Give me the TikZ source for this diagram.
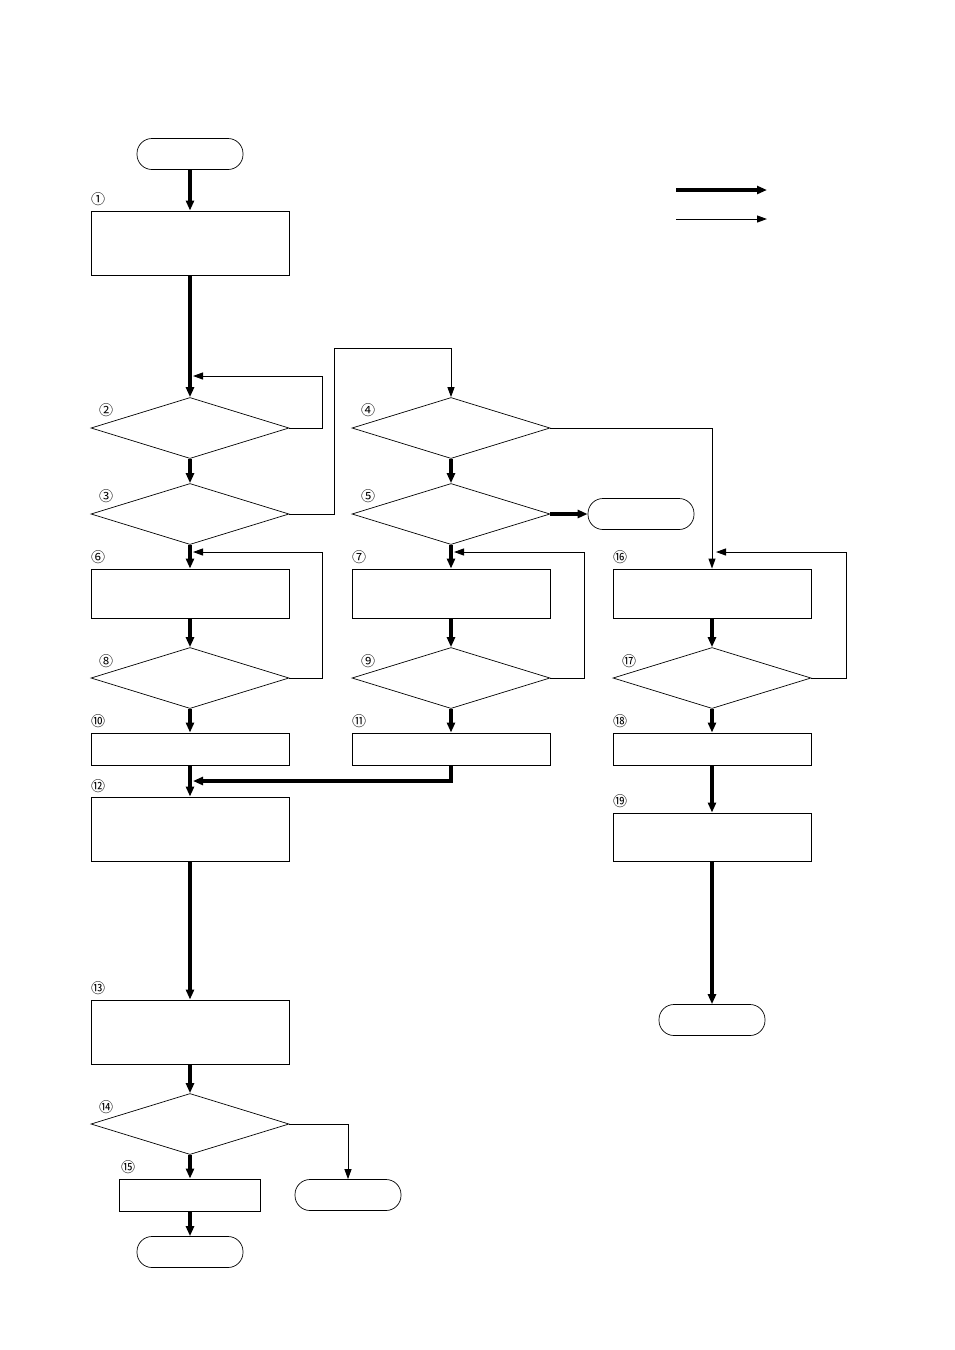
\documentclass[tikz,border=0pt]{standalone}
\usepackage{fontspec}
\newfontfamily\cjk{Noto Sans CJK JP}
\usetikzlibrary{arrows.meta,shapes.geometric}

\begin{document}
\begin{tikzpicture}[x=1pt,y=-1pt,
  box/.style={draw,line width=.9pt,minimum width=198pt,inner sep=0pt},
  dec/.style={draw,diamond,line width=.7pt,minimum width=198pt,minimum height=61pt,inner sep=0pt},
  term/.style={draw,rounded corners=15pt,line width=.7pt,minimum width=106pt,minimum height=31pt,inner sep=0pt},
  num/.style={font=\cjk\fontsize{14}{14}\selectfont,inner sep=0pt},
  main/.style={line width=3.2pt,-{Triangle[length=10pt,width=8pt]}},
  sub/.style={line width=1pt,-{Triangle[length=10pt,width=7pt]}}]
  \useasboundingbox (0,0) rectangle (954,1350);
  % left column
  \node[term] (start) at (190,154) {};
  \node[box,minimum height=64pt] (b1) at (190,243) {};
  \node[dec] (d2) at (190,428) {};
  \node[dec] (d3) at (190,514) {};
  \node[box,minimum height=49pt] (b6) at (190,593.5) {};
  \node[dec] (d8) at (190,678) {};
  \node[box,minimum height=32pt] (b10) at (190,749) {};
  \node[box,minimum height=64pt] (b12) at (190,829) {};
  \node[box,minimum height=64pt] (b13) at (190,1032) {};
  \node[dec] (d14) at (190,1124) {};
  \node[box,minimum width=141pt,minimum height=32pt] (b15) at (190,1195) {};
  \node[term] (e14) at (348,1195) {};
  \node[term] (end) at (190,1252) {};
  % middle column
  \node[dec] (d4) at (451,428) {};
  \node[dec] (d5) at (451,514) {};
  \node[term] (e5) at (641,514) {};
  \node[box,minimum height=49pt] (b7) at (451,593.5) {};
  \node[dec] (d9) at (451,678) {};
  \node[box,minimum height=32pt] (b11) at (451,749) {};
  % right column
  \node[box,minimum height=49pt] (b16) at (712,593.5) {};
  \node[dec] (d17) at (712,678) {};
  \node[box,minimum height=32pt] (b18) at (712,749) {};
  \node[box,minimum height=48pt] (b19) at (712,837) {};
  \node[term] (e19) at (712,1020) {};
  % step numbers
  \foreach \x/\y/\t [count=\i] in {98/199/①,106/410/②,106/496/③,368/410/④,368/496/⑤,
      98/557/⑥,359/557/⑦,106/661/⑧,368/661/⑨,98/721/⑩,359/721/⑪,98/786/⑫,
      98/988/⑬,106/1107/⑭,128/1167/⑮,620/557/⑯,629/661/⑰,620/721/⑱,620/801/⑲}
    \node[num] (n\i) at (\x,\y) {\t};
  % bends and joins
  \coordinate (j2) at (193,376);
  \coordinate (k3) at (334,348);
  \coordinate (j6) at (193,552);
  \coordinate (j7) at (454,552);
  \coordinate (j16) at (716,552);
  \coordinate (m12) at (193,781);
  % main flow
  \draw[main] (start) -- (b1);
  \draw[main] (b1) -- (d2);
  \draw[main] (d2) -- (d3);
  \draw[main] (d3) -- (b6);
  \draw[main] (b6) -- (d8);
  \draw[main] (d8) -- (b10);
  \draw[main] (b10) -- (b12);
  \draw[main] (b12) -- (b13);
  \draw[main] (b13) -- (d14);
  \draw[main] (d14) -- (b15);
  \draw[main] (b15) -- (end);
  \draw[main] (d4) -- (d5);
  \draw[main] (d5.east) -- (e5.west);
  \draw[main] (d5) -- (b7);
  \draw[main] (b7) -- (d9);
  \draw[main] (d9) -- (b11);
  \draw[main] (b11.south) |- (m12);
  \draw[main] (b16) -- (d17);
  \draw[main] (d17) -- (b18);
  \draw[main] (b18) -- (b19);
  \draw[main] (b19) -- (e19);
  % other branches
  \draw[sub] (d2.east) -- ++(33,0) |- (j2);
  \draw[sub] (d3.east) -| (k3) -| (d4.north);
  \draw[sub] (d4.east) -| (b16.north);
  \draw[sub] (d8.east) -- ++(33,0) |- (j6);
  \draw[sub] (d9.east) -- ++(34,0) |- (j7);
  \draw[sub] (d17.east) -- ++(35,0) |- (j16);
  \draw[sub] (d14.east) -| (e14.north);
  % legend
  \coordinate (l1) at (676,190);
  \coordinate (l2) at (767,190);
  \coordinate (l3) at (676,219);
  \coordinate (l4) at (767,219);
  \draw[main] (l1) -- (l2);
  \draw[sub] (l3) -- (l4);
\end{tikzpicture}
\end{document}
